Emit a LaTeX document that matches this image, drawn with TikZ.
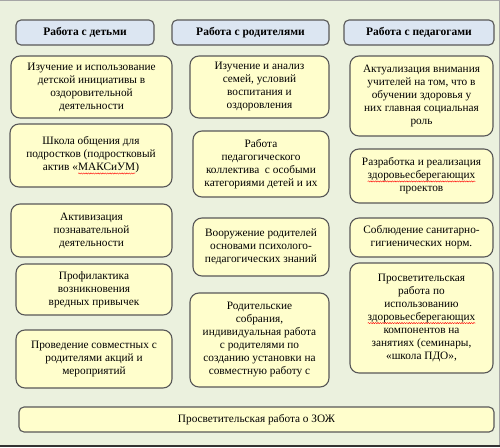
\documentclass[tikz,border=0pt]{standalone}
\usepackage{fontspec}
\setmainfont{Liberation Serif}
\usepackage{xcolor}
\usepackage{tikz}
\usetikzlibrary{decorations.pathmorphing}
\definecolor{bgolive}{RGB}{235,241,222}
\definecolor{cardyel}{RGB}{255,254,204}
\definecolor{headblue}{RGB}{220,230,242}
\definecolor{edgegray}{RGB}{88,88,88}
\newcommand\spellwave[1]{\tikz[baseline=(sw.base), sharp corners]{%
  \node[draw=none, fill=none, inner sep=0pt, outer sep=0pt,
        minimum width=0pt, minimum height=0pt] (sw) {#1};
  \draw[red, line width=0.4pt, decorate, decoration={snake, amplitude=0.6pt, segment length=2.4pt}]
    ([yshift=-2.6pt]sw.base west) -- ([yshift=-2.6pt]sw.base east);}}

\begin{document}
\begin{tikzpicture}[
  x=1pt, y=-1pt,
  head/.style={draw=edgegray, line width=1.1pt, fill=headblue, rounded corners=5pt,
               font=\fontsize{11.5}{13}\selectfont\bfseries, align=center, inner sep=2pt},
  card/.style={draw=edgegray, line width=1.1pt, fill=cardyel, rounded corners=9pt,
               font=\fontsize{11.3}{13}\selectfont, align=center, inner sep=2pt},
  sz/.style 2 args={minimum width=#1, minimum height=#2}
]
\useasboundingbox (0,0) rectangle (500,447);
\fill[bgolive] (0,0) rectangle (500,447);
\draw[gray!70, line width=1pt] (0,0.5) -- (499.5,0.5) -- (499.5,447);
\draw[black!80, line width=1.5pt] (0,446.2) -- (500,446.2);

% column heads
\node[head, sz={138}{25}] (hkids)     at (85,32.5)    {Работа с детьми};
\node[head, sz={157}{25}] (hparents)  at (250.5,32.5) {Работа с родителями};
\node[head, sz={150}{25}] (hteachers) at (419,32.5)   {Работа с педагогами};

% children
\node[card, sz={161}{62}] (kidsA) at (91.5,87)    {Изучение и использование\\детской инициативы в\\оздоровительной\\деятельности};
\node[card, sz={162}{63}] (kidsB) at (91,155.5)   {Школа общения для\\подростков (подростковый\\актив «\spellwave{МАКСиУМ})};
\node[card, sz={161}{53}] (kidsC) at (91.5,230.5) {Активизация\\познавательной\\деятельности};
\node[card, sz={156}{51}] (kidsD) at (94,289.5)   {Профилактика\\возникновения\\вредных привычек};
\node[card, sz={156}{58}] (kidsE) at (94,359)     {Проведение совместных с\\родителями акций и\\мероприятий};

% parents
\node[card, sz={139}{62}] (parA) at (259.5,87)  {Изучение и анализ\\семей, условий\\воспитания и\\оздоровления};
\node[card, sz={136}{66}] (parB) at (261,164)   {Работа\\педагогического\\коллектива \ с особыми\\категориями детей и их};
\node[card, sz={136}{58}] (parC) at (261,247)   {Вооружение родителей\\основами психолого-\\педагогических знаний};
\node[card, sz={139}{94}] (parD) at (259.5,340) {Родительские\\собрания,\\индивидуальная работа\\с родителями по\\созданию установки на\\совместную работу с};

% teachers
\node[card, sz={143}{80}]  (teaA) at (421.5,96)    {Актуализация внимания\\учителей на том, что в\\обучении здоровья у\\них главная социальная\\роль};
\node[card, sz={143}{54}]  (teaB) at (421.5,176)   {Разработка и реализация\\\spellwave{здоровьесберегающих}\\проектов};
\node[card, sz={143}{39}]  (teaC) at (421.5,237.5) {Соблюдение санитарно-\\гигиенических норм.};
\node[card, sz={143}{110}] (teaD) at (421.5,318)   {Просветительская\\работа по\\использованию\\\spellwave{здоровьесберегающих}\\компонентов на\\занятиях (семинары,\\«школа ПДО»,};

% common bar
\node[card, rounded corners=5pt, sz={475}{25}] (zozh) at (256.5,419.5) {Просветительская работа о ЗОЖ};
\end{tikzpicture}
\end{document}
